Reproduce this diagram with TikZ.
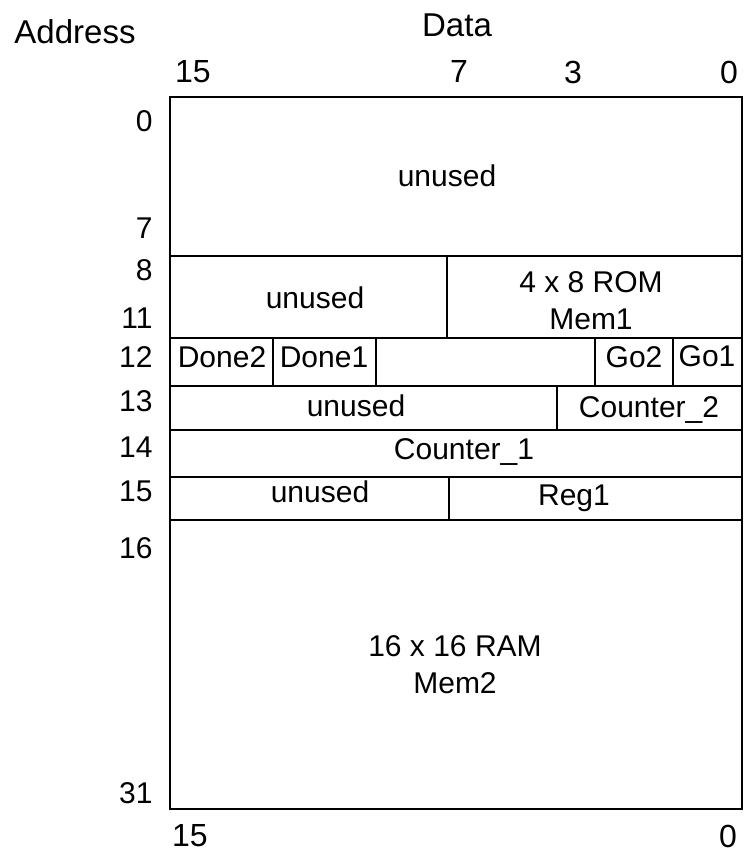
\documentclass[tikz,border=0pt]{standalone}
\usepackage{fontspec}
\setmainfont{Liberation Sans}
\usetikzlibrary{positioning,fit}

\begin{document}
\begin{tikzpicture}[
    x=0.5pt, y=-0.5pt,
    cell/.style={rectangle, draw, line width=0.9pt, inner sep=0pt},
    txt/.style={font=\fontsize{15}{18.5}\selectfont, align=center, inner sep=0pt},
    head/.style={txt, font=\fontsize{16.5}{19}\selectfont},
    bit/.style={txt, font=\fontsize{16}{19}\selectfont},
    addr/.style={txt, anchor=east}
]
\useasboundingbox (0,0) rectangle (743,854);
% header
\node[head] (address) at (75,32) {Address};
\node[head] (data) at (457,25) {Data};
\node[bit] (b15) at (193,72) {15};
\node[bit] (b7) at (459,72) {7};
\node[bit] (b3) at (573,72) {3};
\node[bit] (b0) at (729,72) {0};
% address column
\node[addr] (a0) at (153,121) {0};
\node[addr] (a7) at (153,228) {7};
\node[addr] (a8) at (153,270) {8};
\node[addr] (a11) at (153,318) {11};
\node[addr] (a12) at (153,357) {12};
\node[addr] (a13) at (153,401) {13};
\node[addr] (a14) at (153,447) {14};
\node[addr] (a15) at (153,491) {15};
\node[addr] (a16) at (153,548) {16};
\node[addr] (a31) at (153,793) {31};
% memory cells
\node[cell, fit={(170,97) (742,256)}] (r0) {};
\node[cell, fit={(170,256) (447,338)}] (r8u) {};
\node[cell, fit={(447,256) (742,338)}] (rom) {};
\node[cell, fit={(170,338) (273,386)}] (done2) {};
\node[cell, fit={(273,338) (376,386)}] (done1) {};
\node[cell, fit={(376,338) (595,386)}] (r12u) {};
\node[cell, fit={(595,338) (673,386)}] (go2) {};
\node[cell, fit={(673,338) (742,386)}] (go1) {};
\node[cell, fit={(170,386) (557,430)}] (r13u) {};
\node[cell, fit={(557,386) (742,430)}] (cnt2) {};
\node[cell, fit={(170,430) (742,477)}] (cnt1) {};
\node[cell, fit={(170,477) (449,520)}] (r15u) {};
\node[cell, fit={(449,477) (742,520)}] (reg1) {};
\node[cell, fit={(170,520) (742,809)}] (ram) {};
% cell texts
\node[txt] (t0) at (447,176) {unused};
\node[txt] (t8u) at (315,298) {unused};
\node[txt] (trom) at (591,301) {4 x 8 ROM\\Mem1};
\node[txt] (tdone2) at (222,357) {Done2};
\node[txt] (tdone1) at (324,357) {Done1};
\node[txt] (tgo2) at (634,357) {Go2};
\node[txt] (tgo1) at (707,356) {Go1};
\node[txt] (t13u) at (356,406) {unused};
\node[txt] (tcnt2) at (649,410) {Counter\_2};
\node[txt] (tcnt1) at (464,452) {Counter\_1};
\node[txt] (t15u) at (320,492) {unused};
\node[txt] (treg1) at (574,498) {Reg1};
\node[txt] (tram) at (455,665) {16 x 16 RAM\\Mem2};
% footer
\node[bit] (f15) at (190,836) {15};
\node[bit] (f0) at (728,836) {0};
\end{tikzpicture}
\end{document}
